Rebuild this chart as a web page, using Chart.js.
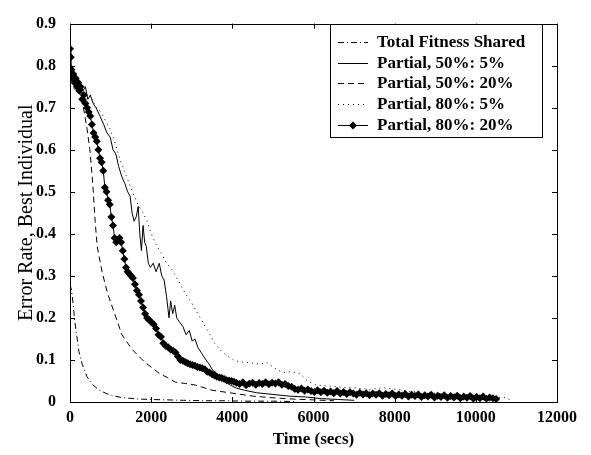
<!DOCTYPE html>
<html lang="en">
<head>
    <meta charset="UTF-8">
    <title>Error Rate vs Time</title>
    <script src="https://cdn.jsdelivr.net/npm/chart.js"></script>
    <style>
        html, body { margin: 0; padding: 0; background: #fff; }
        .chart-box { width: 591px; height: 455px; position: relative; }
    </style>
</head>
<body>
    <div class="chart-box"><canvas id="errChart"></canvas></div>

    <script>
        // series labels
        const seriesNames = ['Total Fitness Shared', 'Partial, 50%: 5%', 'Partial, 50%: 20%', 'Partial, 80%: 5%', 'Partial, 80%: 20%'];

        // Total Fitness Shared
        const tfsTime = [0, 40, 80, 120, 170, 220, 300, 420, 550, 720, 900, 1050, 1250, 1450, 1700, 2000, 2400, 2800, 3300, 3800, 4300, 5000, 5600];
        const tfsErr  = [0.28, 0.265, 0.23, 0.19, 0.155, 0.12, 0.09, 0.06, 0.042, 0.028, 0.02, 0.015, 0.011, 0.009, 0.007, 0.006, 0.005, 0.004, 0.003, 0.003, 0.002, 0.002, 0.001];

        // Partial, 50%: 5%
        const p505Time = [0, 50, 100, 150, 200, 260, 320, 380, 440, 500, 570, 640, 740, 830, 910, 990, 1060, 1130, 1200, 1280, 1350, 1420, 1480, 1530, 1580, 1630, 1680, 1720, 1760, 1800, 1840, 1880, 1930, 1980, 2050, 2120, 2200, 2260, 2320, 2380, 2440, 2480, 2530, 2580, 2630, 2700, 2780, 2860, 2940, 3010, 3080, 3150, 3250, 3350, 3430, 3520, 3600, 3680, 3800, 3950, 4100, 4300, 4600, 5000, 5400, 5800, 6200, 6600, 7000];
        const p505Err  = [0.80, 0.78, 0.76, 0.77, 0.74, 0.76, 0.74, 0.75, 0.72, 0.73, 0.71, 0.70, 0.68, 0.66, 0.64, 0.63, 0.60, 0.59, 0.56, 0.535, 0.52, 0.50, 0.49, 0.45, 0.43, 0.44, 0.465, 0.40, 0.36, 0.42, 0.38, 0.37, 0.33, 0.32, 0.33, 0.31, 0.33, 0.30, 0.29, 0.25, 0.20, 0.24, 0.21, 0.23, 0.20, 0.19, 0.18, 0.16, 0.17, 0.145, 0.15, 0.13, 0.115, 0.10, 0.09, 0.075, 0.07, 0.06, 0.05, 0.04, 0.033, 0.028, 0.022, 0.018, 0.014, 0.012, 0.008, 0.006, 0.004];

        // Partial, 50%: 20%
        const p5020Time = [0, 60, 120, 200, 280, 350, 420, 490, 560, 620, 670, 790, 920, 1100, 1280, 1530, 1850, 2200, 2400, 2600, 2850, 3100, 3500, 4000, 4500, 5000, 5500, 6000, 6500];
        const p5020Err  = [0.79, 0.77, 0.76, 0.74, 0.72, 0.69, 0.65, 0.60, 0.52, 0.43, 0.37, 0.31, 0.26, 0.21, 0.16, 0.125, 0.094, 0.068, 0.058, 0.047, 0.044, 0.04, 0.028, 0.021, 0.014, 0.01, 0.007, 0.005, 0.003];

        // Partial, 80%: 5%
        const p805Time = [0, 60, 120, 200, 280, 360, 450, 550, 650, 760, 870, 980, 1100, 1220, 1340, 1460, 1580, 1700, 1800, 1900, 2000, 2070, 2150, 2270, 2380, 2510, 2600, 2690, 2830, 3000, 3150, 3300, 3420, 3560, 3740, 3900, 4060, 4250, 4480, 4650, 4850, 5050, 5250, 5450, 5660, 5850, 6080, 6400, 6700, 7070, 7400, 7700, 8050, 8400, 8800, 9200, 9600, 10000, 10400, 10760, 10900];
        const p805Err  = [0.78, 0.76, 0.74, 0.75, 0.72, 0.73, 0.71, 0.72, 0.70, 0.69, 0.67, 0.65, 0.62, 0.58, 0.55, 0.52, 0.49, 0.465, 0.45, 0.43, 0.40, 0.385, 0.37, 0.35, 0.33, 0.315, 0.30, 0.285, 0.26, 0.235, 0.21, 0.185, 0.165, 0.14, 0.12, 0.108, 0.098, 0.095, 0.093, 0.09, 0.094, 0.08, 0.07, 0.072, 0.068, 0.05, 0.04, 0.038, 0.035, 0.033, 0.03, 0.034, 0.03, 0.025, 0.022, 0.02, 0.018, 0.015, 0.012, 0.01, 0.002];

        // Partial, 80%: 20% (marked every sample)
        const p8020Time = [
            0, 20, 40, 60, 80, 110, 140, 170, 200, 230,
            260, 300, 340, 380, 420, 460, 500, 540, 580, 620,
            660, 700, 740, 780, 820, 860, 900, 940, 980, 1020,
            1060, 1100, 1140, 1180, 1220, 1260, 1300, 1340, 1380, 1420,
            1460, 1500, 1550, 1600, 1650, 1700, 1750, 1800, 1850, 1900,
            1950, 2000, 2060, 2120, 2180, 2240, 2300, 2360, 2420, 2480,
            2540, 2600, 2660, 2720, 2780, 2840, 2900, 2960, 3020, 3080,
            3140, 3200, 3260, 3320, 3380, 3440, 3500, 3560, 3620, 3680,
            3740, 3800, 3860, 3920, 3980, 4040, 4100, 4180, 4260, 4340,
            4420, 4500, 4580, 4660, 4740, 4820, 4900, 4980, 5060, 5140,
            5220, 5300, 5380, 5460, 5540, 5620, 5700, 5780, 5860, 5940,
            6020, 6100, 6180, 6260, 6340, 6420, 6500, 6580, 6660, 6740,
            6820, 6900, 6980, 7060, 7140, 7220, 7300, 7380, 7460, 7540,
            7620, 7700, 7780, 7860, 7940, 8020, 8100, 8180, 8260, 8340,
            8420, 8500, 8580, 8660, 8740, 8820, 8900, 8980, 9060, 9140,
            9220, 9300, 9380, 9460, 9540, 9620, 9700, 9780, 9860, 9940,
            10020, 10100, 10180, 10260, 10340, 10420, 10500];
        const p8020Err = [
            0.84, 0.82, 0.79, 0.77, 0.78, 0.76, 0.77, 0.75, 0.76, 0.74,
            0.75, 0.72, 0.73, 0.71, 0.70, 0.69, 0.68, 0.66, 0.64, 0.63,
            0.62, 0.60, 0.58, 0.57, 0.55, 0.51, 0.50, 0.48, 0.47, 0.44,
            0.42, 0.39, 0.38, 0.385, 0.39, 0.38, 0.36, 0.34, 0.32, 0.31,
            0.305, 0.30, 0.295, 0.28, 0.265, 0.255, 0.24, 0.225, 0.21, 0.20,
            0.195, 0.19, 0.185, 0.175, 0.16, 0.155, 0.14, 0.133, 0.13, 0.125,
            0.122, 0.118, 0.108, 0.10, 0.098, 0.095, 0.092, 0.09, 0.088, 0.086,
            0.083, 0.082, 0.08, 0.078, 0.072, 0.07, 0.066, 0.063, 0.06, 0.058,
            0.057, 0.055, 0.052, 0.051, 0.05, 0.048, 0.046, 0.043, 0.047, 0.04,
            0.044, 0.046, 0.041, 0.045, 0.043, 0.047, 0.042, 0.046, 0.044, 0.047,
            0.041, 0.043, 0.038, 0.036, 0.031, 0.029, 0.032, 0.027, 0.03, 0.026,
            0.024, 0.028, 0.023, 0.027, 0.022, 0.025, 0.021, 0.026, 0.02, 0.024,
            0.019, 0.023, 0.02, 0.017, 0.022, 0.018, 0.021, 0.016, 0.02, 0.017,
            0.021, 0.015, 0.019, 0.016, 0.02, 0.014, 0.018, 0.015, 0.019, 0.013,
            0.017, 0.014, 0.018, 0.012, 0.016, 0.013, 0.017, 0.011, 0.015, 0.012,
            0.016, 0.01, 0.014, 0.011, 0.015, 0.009, 0.013, 0.01, 0.014, 0.008,
            0.012, 0.009, 0.013, 0.008, 0.011, 0.009, 0.007];

        const xTicks = [0, 2000, 4000, 6000, 8000, 10000, 12000];
        const yTicks = [0, 0.1, 0.2, 0.3, 0.4, 0.5, 0.6, 0.7, 0.8, 0.9];

        const serif = "'Liberation Serif', 'Times New Roman', serif";

        function pairs(xs, ys) {
            return xs.map((x, i) => ({ x: x, y: ys[i] }));
        }

        // inward ticks on all four sides + frame, matlab style
        const frameTicks = {
            id: 'frameTicks',
            afterDraw(chart) {
                const { ctx, chartArea: a, scales: { x, y } } = chart;
                const len = 5;
                ctx.save();
                ctx.strokeStyle = '#000';
                ctx.lineWidth = 1;
                ctx.beginPath();
                xTicks.forEach(v => {
                    const px = Math.round(x.getPixelForValue(v)) + 0.5;
                    ctx.moveTo(px, a.bottom); ctx.lineTo(px, a.bottom - len);
                    ctx.moveTo(px, a.top); ctx.lineTo(px, a.top + len);
                });
                yTicks.forEach(v => {
                    const py = Math.round(y.getPixelForValue(v)) + 0.5;
                    ctx.moveTo(a.left, py); ctx.lineTo(a.left + len, py);
                    ctx.moveTo(a.right, py); ctx.lineTo(a.right - len, py);
                });
                ctx.stroke();
                ctx.strokeRect(Math.round(a.left) + 0.5, Math.round(a.top) + 0.5, Math.round(a.right - a.left), Math.round(a.bottom - a.top));
                ctx.restore();
            }
        };

        // boxed legend in the upper right
        const boxLegend = {
            id: 'boxLegend',
            afterDraw(chart) {
                const ctx = chart.ctx;
                const bx = 330, by = 24, bw = 212, bh = 113;
                const rows = [42, 63, 83, 104, 125];
                ctx.save();
                ctx.fillStyle = '#fff';
                ctx.fillRect(bx, by, bw, bh);
                ctx.strokeStyle = '#000';
                ctx.lineWidth = 1;
                ctx.strokeRect(bx + 0.5, by + 0.5, bw, bh);
                chart.data.datasets.forEach((ds, i) => {
                    const yy = rows[i] + 0.5;
                    ctx.setLineDash(ds.borderDash || []);
                    ctx.beginPath();
                    ctx.moveTo(338, yy); ctx.lineTo(368, yy);
                    ctx.stroke();
                    ctx.setLineDash([]);
                    if (ds.pointRadius > 0) {
                        ctx.fillStyle = '#000';
                        ctx.beginPath();
                        ctx.moveTo(353, yy - 4); ctx.lineTo(357, yy);
                        ctx.lineTo(353, yy + 4); ctx.lineTo(349, yy);
                        ctx.closePath(); ctx.fill();
                    }
                    ctx.fillStyle = '#000';
                    ctx.font = 'bold 17px ' + serif;
                    ctx.textBaseline = 'middle';
                    ctx.fillText(ds.label, 377, yy);
                });
                ctx.restore();
            }
        };

        document.addEventListener('DOMContentLoaded', function () {
            const ctx = document.getElementById('errChart').getContext('2d');
            const base = { borderColor: '#000', borderWidth: 1, pointRadius: 0, fill: false, tension: 0 };

            new Chart(ctx, {
                type: 'line',
                data: {
                    datasets: [
                        Object.assign({}, base, { label: seriesNames[0], data: pairs(tfsTime, tfsErr), borderDash: [6, 3, 1, 3] }),
                        Object.assign({}, base, { label: seriesNames[1], data: pairs(p505Time, p505Err) }),
                        Object.assign({}, base, { label: seriesNames[2], data: pairs(p5020Time, p5020Err), borderDash: [6, 4] }),
                        Object.assign({}, base, { label: seriesNames[3], data: pairs(p805Time, p805Err), borderDash: [1, 4] }),
                        Object.assign({}, base, { label: seriesNames[4], data: pairs(p8020Time, p8020Err),
                            pointRadius: 4, pointStyle: 'rectRot', pointBackgroundColor: '#000', pointBorderColor: '#000', pointBorderWidth: 0 })
                    ]
                },
                options: {
                    responsive: true, maintainAspectRatio: false, animation: false,
                    layout: { padding: { top: 17, right: 34, left: 0, bottom: 0 } },
                    plugins: { legend: { display: false }, tooltip: { enabled: false } },
                    scales: {
                        x: {
                            type: 'linear', min: 0, max: 12000,
                            grid: { display: false, drawTicks: false },
                            border: { display: false },
                            afterBuildTicks: s => { s.ticks = xTicks.map(v => ({ value: v })); },
                            afterFit: s => { s.height = 53; },
                            ticks: { color: '#000', padding: 6, maxRotation: 0, font: { family: serif, size: 16, weight: 'bold' },
                                callback: v => String(v) },
                            title: { display: true, text: 'Time (secs)', color: '#000', padding: { top: 0, bottom: 5 },
                                font: { family: serif, size: 17, weight: 'bold' } }
                        },
                        y: {
                            min: 0, max: 0.9,
                            grid: { display: false, drawTicks: false },
                            border: { display: false },
                            afterBuildTicks: s => { s.ticks = yTicks.map(v => ({ value: v })); },
                            afterFit: s => { s.width = 70; },
                            ticks: { color: '#000', padding: 14, font: { family: serif, size: 16, weight: 'bold' },
                                callback: v => v === 0 ? '0' : v.toFixed(1) },
                            title: { display: true, text: 'Error Rate, Best Individual', color: '#000', padding: { top: 15, bottom: 0 },
                                font: { family: serif, size: 20 } }
                        }
                    }
                },
                plugins: [frameTicks, boxLegend]
            });
        });
    </script>
</body>
</html>
